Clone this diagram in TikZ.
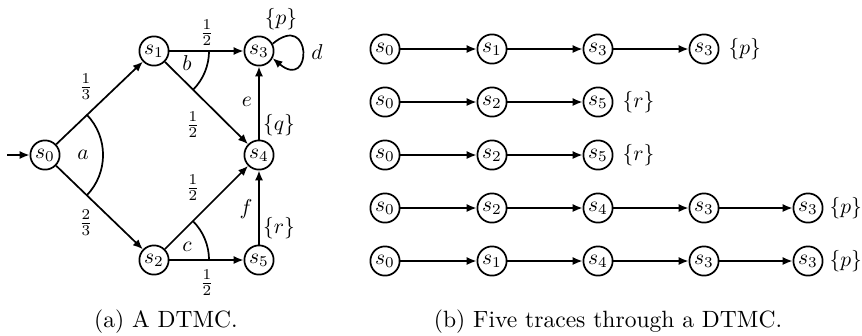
\documentclass[tikz,border=0pt]{standalone}
\usetikzlibrary{arrows.meta}
\begin{document}
\begin{tikzpicture}[x=0.4651pt,y=0.4651pt,
  st/.style={circle,draw,thick,minimum size=13.6pt,inner sep=0pt},
  arr/.style={thick,-{Latex[length=4.6pt,width=3.8pt]}},
  lbl/.style={inner sep=0pt},
  prop/.style={right,inner sep=0pt,xshift=4.0pt},
  propend/.style={right,inner sep=0pt,xshift=2.6pt},
  captext/.style={anchor=base,font=\fontsize{10.95}{13.6}\selectfont},
  arcline/.style={thick}]
\useasboundingbox (0,0) rectangle (862,-335);

% ---------- (a) DTMC ----------
\node[st] (s0) at (45,-155) {$s_0$};
\node[st] (s1) at (154,-51) {$s_1$};
\node[st] (s2) at (154,-260) {$s_2$};
\node[st] (s3) at (259,-51) {$s_3$};
\node[st] (s4) at (259,-155) {$s_4$};
\node[st] (s5) at (259,-260) {$s_5$};
\coordinate (init) at (7,-155);

\draw[arr] (init) -- (s0);
\draw[arr] (s0) -- (s1);
\draw[arr] (s0) -- (s2);
\draw[arr] (s1) -- (s3);
\draw[arr] (s1) -- (s4);
\draw[arr] (s2) -- (s4);
\draw[arr] (s2) -- (s5);
\draw[arr] (s4) -- (s3);
\draw[arr] (s5) -- (s4);
\draw[arr] (s3.28) .. controls +(40:52) and +(-40:52) .. (s3.-28);

% choice arcs
\draw[arcline] (s0.center) ++(43.7:27pt) arc[start angle=43.7,end angle=-43.9,radius=27pt];
\draw[arcline] (s1.center) ++(0:25.6pt) arc[start angle=0,end angle=-44.7,radius=25.6pt];
\draw[arcline] (s2.center) ++(0:25.6pt) arc[start angle=0,end angle=45,radius=25.6pt];

% labels
\node[lbl] (la) at (83,-155) {$a$};
\node[lbl] (lb) at (187,-63) {$b$};
\node[lbl] (lc) at (187,-247) {$c$};
\node[lbl] (ld) at (317,-52) {$d$};
\node[lbl] (le) at (247,-102) {$e$};
\node[lbl] (lf) at (246,-209) {$f$};
\node[lbl] (p13) at (86,-87) {$\frac{1}{3}$};
\node[lbl] (p23) at (86,-223) {$\frac{2}{3}$};
\node[lbl] (p12a) at (207,-33) {$\frac{1}{2}$};
\node[lbl] (p12b) at (193,-125) {$\frac{1}{2}$};
\node[lbl] (p12c) at (193,-188) {$\frac{1}{2}$};
\node[lbl] (p12d) at (207,-283) {$\frac{1}{2}$};
\node[lbl] (Lp) at (281,-19) {$\{p\}$};
\node[lbl] (Lq) at (279,-125) {$\{q\}$};
\node[lbl] (Lr) at (279,-228) {$\{r\}$};

\node[captext] (capa) at (166,-327) {(a) A DTMC.};

% ---------- (b) traces ----------
% row 1
\node[st] (a0) at (385,-49) {$s_0$};
\node[st] (a1) at (492,-49) {$s_1$};
\node[st] (a2) at (598,-49) {$s_3$};
\node[st] (a3) at (704,-49) {$s_3$};
\draw[arr] (a0) -- (a1);
\draw[arr] (a1) -- (a2);
\draw[arr] (a2) -- (a3);
\node[prop] (ap) at (a3.east) {$\{p\}$};
% row 2
\node[st] (b0) at (385,-102) {$s_0$};
\node[st] (b1) at (492,-102) {$s_2$};
\node[st] (b2) at (598,-102) {$s_5$};
\draw[arr] (b0) -- (b1);
\draw[arr] (b1) -- (b2);
\node[prop] (bp) at (b2.east) {$\{r\}$};
% row 3
\node[st] (c0) at (385,-155) {$s_0$};
\node[st] (c1) at (492,-155) {$s_2$};
\node[st] (c2) at (598,-155) {$s_5$};
\draw[arr] (c0) -- (c1);
\draw[arr] (c1) -- (c2);
\node[prop] (cp) at (c2.east) {$\{r\}$};
% row 4
\node[st] (d0) at (385,-208) {$s_0$};
\node[st] (d1) at (492,-208) {$s_2$};
\node[st] (d2) at (598,-208) {$s_4$};
\node[st] (d3) at (704,-208) {$s_3$};
\node[st] (d4) at (808,-208) {$s_3$};
\draw[arr] (d0) -- (d1);
\draw[arr] (d1) -- (d2);
\draw[arr] (d2) -- (d3);
\draw[arr] (d3) -- (d4);
\node[propend] (dp) at (d4.east) {$\{p\}$};
% row 5
\node[st] (e0) at (385,-261) {$s_0$};
\node[st] (e1) at (492,-261) {$s_1$};
\node[st] (e2) at (598,-261) {$s_4$};
\node[st] (e3) at (704,-261) {$s_3$};
\node[st] (e4) at (808,-261) {$s_3$};
\draw[arr] (e0) -- (e1);
\draw[arr] (e1) -- (e2);
\draw[arr] (e2) -- (e3);
\draw[arr] (e3) -- (e4);
\node[propend] (ep) at (e4.east) {$\{p\}$};

\node[captext] (capb) at (608,-327) {(b) Five traces through a DTMC.};
\end{tikzpicture}
\end{document}
